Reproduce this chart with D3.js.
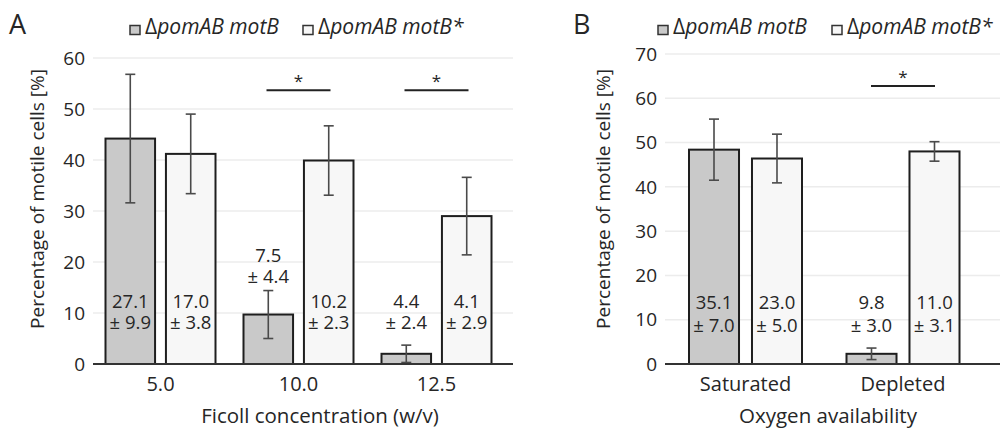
<!DOCTYPE html>
<html>
<head>
<meta charset="utf-8">
<script src="https://cdnjs.cloudflare.com/ajax/libs/d3/7.8.5/d3.min.js"></script>
<style>
  body { margin: 0; background: #fff; }
  text { font-family: "Open Sans", "Noto Sans", sans-serif; fill: #262626; }
</style>
</head>
<body>
<div id="chart"></div>
<script>
// ---- data ----
var seriesNames = ["ΔpomAB motB", "ΔpomAB motB*"];

// panel A: Ficoll concentration
var catsA = ["5.0", "10.0", "12.5"];
var meanA1 = [44.2, 9.7, 2.0];
var errA1 = [12.6, 4.7, 1.7];
var meanA2 = [41.2, 39.9, 29.0];
var errA2 = [7.8, 6.8, 7.6];
var labelA1 = [["27.1", "± 9.9"], ["7.5", "± 4.4"], ["4.4", "± 2.4"]];
var labelA2 = [["17.0", "± 3.8"], ["10.2", "± 2.3"], ["4.1", "± 2.9"]];
var sigA = ["10.0", "12.5"];
var ticksA = [0, 10, 20, 30, 40, 50, 60];

// panel B: oxygen availability
var catsB = ["Saturated", "Depleted"];
var meanB1 = [48.4, 2.3];
var errB1 = [6.9, 1.3];
var meanB2 = [46.4, 48.0];
var errB2 = [5.5, 2.2];
var labelB1 = [["35.1", "± 7.0"], ["9.8", "± 3.0"]];
var labelB2 = [["23.0", "± 5.0"], ["11.0", "± 3.1"]];
var sigB = ["Depleted"];
var ticksB = [0, 10, 20, 30, 40, 50, 60, 70];

var fills = ["#c9c9c9", "#f7f7f7"];

var w = 1000, h = 430;
var svg = d3.select("#chart").append("svg")
  .attr("width", w).attr("height", h);

function panel(o) {
  var g = svg.append("g");
  var y = d3.scaleLinear().domain([0, o.ymax]).range([o.y0, o.y1]);
  var x = d3.scaleBand().domain(o.cats).range(o.bandRange);
  var xs = d3.scaleBand().domain([0, 1])
    .range([x.bandwidth() / 2 - o.groupW / 2, x.bandwidth() / 2 + o.groupW / 2])
    .paddingInner(o.padIn);

  // gridlines
  g.selectAll(".grid").data(o.ticks.slice(1)).enter().append("line")
    .attr("x1", o.gridX[0]).attr("x2", o.gridX[1])
    .attr("y1", function(d) { return y(d); }).attr("y2", function(d) { return y(d); })
    .attr("stroke", "#ececec").attr("stroke-width", 1.5);

  // y tick labels
  g.selectAll(".ytick").data(o.ticks).enter().append("text")
    .attr("x", o.gridX[0] - 8)
    .attr("y", function(d) { return y(d); })
    .attr("dy", "0.35em")
    .attr("text-anchor", "end")
    .attr("font-size", "19px")
    .text(function(d) { return d; });

  var rows = [];
  o.cats.forEach(function(c, i) {
    rows.push({ c: c, s: 0, m: o.m1[i], e: o.e1[i], lab: o.l1[i] });
    rows.push({ c: c, s: 1, m: o.m2[i], e: o.e2[i], lab: o.l2[i] });
  });
  function bx(d) { return x(d.c) + xs(d.s); }

  g.selectAll(".bar").data(rows).enter().append("rect")
    .attr("x", bx)
    .attr("y", function(d) { return y(d.m); })
    .attr("width", xs.bandwidth())
    .attr("height", function(d) { return y(0) - y(d.m); })
    .attr("fill", function(d) { return fills[d.s]; })
    .attr("stroke", "#1e1e1e").attr("stroke-width", 2);

  // error bars
  var eb = g.selectAll(".err").data(rows).enter().append("g")
    .attr("stroke", "#4a4a4a").attr("stroke-width", 1.6);
  eb.append("line")
    .attr("x1", function(d) { return bx(d) + xs.bandwidth() / 2; })
    .attr("x2", function(d) { return bx(d) + xs.bandwidth() / 2; })
    .attr("y1", function(d) { return y(Math.max(0, d.m - d.e)); })
    .attr("y2", function(d) { return y(d.m + d.e); });
  [1, -1].forEach(function(sg) {
    eb.append("line")
      .attr("x1", function(d) { return bx(d) + xs.bandwidth() / 2 - 5; })
      .attr("x2", function(d) { return bx(d) + xs.bandwidth() / 2 + 5; })
      .attr("y1", function(d) { return y(Math.max(0, d.m + sg * d.e)); })
      .attr("y2", function(d) { return y(Math.max(0, d.m + sg * d.e)); })
      .attr("display", function(d) { return d.m - d.e <= 0 && sg < 0 ? "none" : null; });
  });

  // value labels: inside the bar, or lifted above an error bar that would hit them
  var lab = g.selectAll(".lab").data(rows).enter().append("text")
    .attr("text-anchor", "middle")
    .attr("font-size", "18.5px")
    .attr("transform", function(d) {
      var fixed = y(0) - o.labOff;
      var tall = y(d.m) < fixed - o.labGap - 14;
      var clear = y(d.m + d.e) > fixed + 10;
      var ly = (tall || clear) ? fixed : y(d.m + d.e) - 14;
      return "translate(" + (bx(d) + xs.bandwidth() / 2) + "," + ly + ")";
    });
  lab.append("tspan").attr("x", 0).attr("y", -o.labGap).attr("dy", "0.35em")
    .text(function(d) { return d.lab[0]; });
  lab.append("tspan").attr("x", 0).attr("y", 0).attr("dy", "0.35em")
    .text(function(d) { return d.lab[1]; });

  // x axis baseline
  g.append("line")
    .attr("x1", o.gridX[0]).attr("x2", o.gridX[1])
    .attr("y1", y(0)).attr("y2", y(0))
    .attr("stroke", "#333").attr("stroke-width", 2);

  // category labels
  g.selectAll(".xtick").data(o.cats).enter().append("text")
    .attr("x", function(d) { return x(d) + x.bandwidth() / 2; })
    .attr("y", 391)
    .attr("text-anchor", "middle")
    .attr("font-size", "20px")
    .text(function(d) { return d; });

  // axis titles
  g.append("text")
    .attr("x", o.xTitleX).attr("y", 423)
    .attr("text-anchor", "middle")
    .attr("font-size", "20.5px")
    .text(o.xTitle);
  g.append("text")
    .attr("transform", "translate(" + o.yTitleX + ",199) rotate(-90)")
    .attr("text-anchor", "middle")
    .attr("dy", "0.35em")
    .attr("font-size", "19px")
    .text("Percentage of motile cells [%]");

  // significance bars
  var sig = g.selectAll(".sig").data(o.sig).enter().append("g");
  sig.append("line")
    .attr("x1", function(d) { return x(d) + x.bandwidth() / 2 - 32; })
    .attr("x2", function(d) { return x(d) + x.bandwidth() / 2 + 32; })
    .attr("y1", y(o.sigY)).attr("y2", y(o.sigY))
    .attr("stroke", "#222").attr("stroke-width", 2);
  sig.append("text")
    .attr("x", function(d) { return x(d) + x.bandwidth() / 2; })
    .attr("y", y(o.sigY) - 3)
    .attr("text-anchor", "middle")
    .attr("font-size", "17px")
    .text("*");

  // panel letter
  g.append("text").attr("x", o.letterX).attr("y", 34)
    .attr("font-size", "27px").text(o.letter);

  // legend
  var lg = g.selectAll(".leg").data(seriesNames).enter().append("g")
    .attr("transform", function(d, i) { return "translate(" + o.legX[i] + ",0)"; });
  lg.append("rect").attr("x", 0).attr("y", 25.5).attr("width", 10).attr("height", 9)
    .attr("fill", function(d, i) { return fills[i]; })
    .attr("stroke", "#333").attr("stroke-width", 1.5);
  var lt = lg.append("text").attr("x", 15).attr("y", 34).attr("font-size", "21px");
  lt.append("tspan").text("Δ");
  lt.append("tspan").attr("font-style", "italic").text(function(d) { return d.slice(1); });
}

panel({
  letter: "A", letterX: 9,
  cats: catsA, m1: meanA1, e1: errA1, m2: meanA2, e2: errA2, l1: labelA1, l2: labelA2,
  ymax: 60, ticks: ticksA, y0: 364, y1: 58,
  bandRange: [91.5, 505.5], groupW: 110, padIn: 0.18,
  gridX: [93, 513], labOff: 41, labGap: 21.5,
  xTitle: "Ficoll concentration (w/v)", xTitleX: 320, yTitleX: 37,
  sig: sigA, sigY: 53.7, legX: [130, 303]
});

panel({
  letter: "B", letterX: 573,
  cats: catsB, m1: meanB1, e1: errB1, m2: meanB2, e2: errB2, l1: labelB1, l2: labelB2,
  ymax: 70, ticks: ticksB, y0: 364, y1: 54,
  bandRange: [666.75, 981.75], groupW: 113, padIn: 0.206,
  gridX: [665, 1000], labOff: 38.5, labGap: 22.5,
  xTitle: "Oxygen availability", xTitleX: 828, yTitleX: 603,
  sig: sigB, sigY: 62.8, legX: [658, 832]
});
</script>
</body>
</html>
